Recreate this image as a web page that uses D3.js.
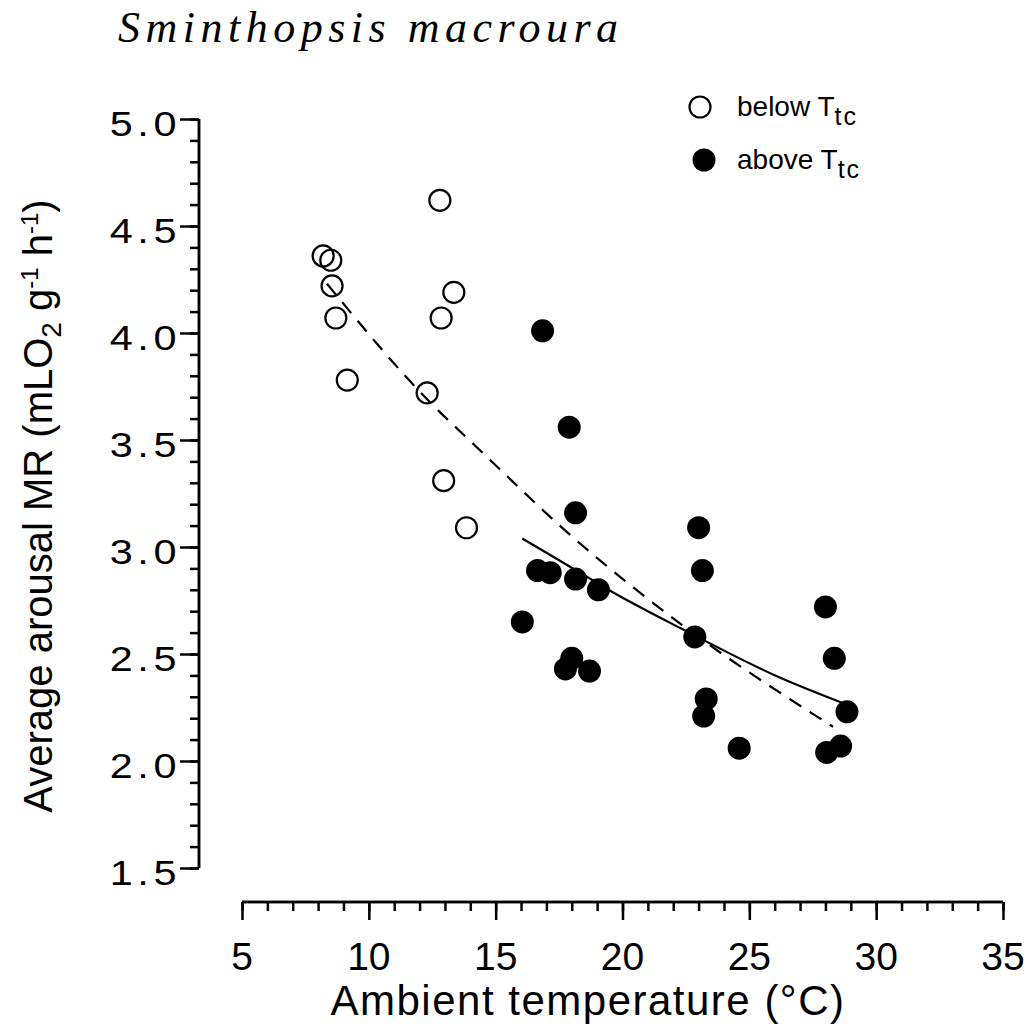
<!DOCTYPE html>
<html>
<head>
<meta charset="utf-8">
<script src="https://cdn.jsdelivr.net/npm/d3@7"></script>
<style>
  body { margin: 0; background: #fff; }
  text { font-family: "Liberation Sans", Arial, sans-serif; fill: #000; }
</style>
</head>
<body>
<div id="chart"></div>
<script>
// data
var belowTemp = [8.2, 8.5, 8.55, 8.7, 9.15, 12.8, 13.35, 12.85, 12.3, 12.95, 13.85];
var belowMR   = [4.36, 4.34, 4.22, 4.07, 3.78, 4.62, 4.19, 4.07, 3.72, 3.31, 3.09];

var aboveTemp = [16.85, 17.9, 18.15, 16.65, 17.15, 18.15, 19.05, 16.05, 18.0, 17.75, 18.7,
                 23.0, 23.15, 22.85, 23.3, 23.2, 24.6, 28.0, 28.35, 28.85, 28.6, 28.05];
var aboveMR   = [4.01, 3.56, 3.16, 2.89, 2.88, 2.85, 2.80, 2.65, 2.48, 2.43, 2.42,
                 3.09, 2.89, 2.58, 2.29, 2.21, 2.06, 2.72, 2.48, 2.23, 2.07, 2.04];

// fitted curves, points
var dashTemp = [8.35, 12.3, 14.4, 18.0, 22.3, 28.3];
var dashMR   = [4.23, 3.69, 3.45, 3.05, 2.64, 2.16];
var solidTemp = [16.05, 17.9, 19.6, 22.3, 26.2, 28.7];
var solidMR   = [3.04, 2.91, 2.79, 2.62, 2.39, 2.27];

var xTicks = [5, 10, 15, 20, 25, 30, 35];
var yTicks = [1.5, 2.0, 2.5, 3.0, 3.5, 4.0, 4.5, 5.0];

var W = 1028, H = 1026;

var svg = d3.select("#chart")
  .append("svg")
  .attr("width", W)
  .attr("height", H);

var x = d3.scaleLinear().domain([5, 35]).range([242, 1003]);
var y = d3.scaleLinear().domain([1.5, 5.0]).range([868, 119]);

// x axis: line on top, ticks pointing down
var xAxisY = 902;
var gx = svg.append("g").attr("transform", "translate(0," + xAxisY + ")");
gx.call(d3.axisBottom(x).tickValues(d3.range(5, 35.01, 1)).tickSize(9).tickSizeOuter(0).tickFormat(""));
gx.append("g").call(d3.axisBottom(x).tickValues(xTicks).tickSize(18).tickSizeOuter(0).tickFormat(""));
gx.selectAll("path, line").attr("stroke", "#000").attr("stroke-width", 2.5);
gx.selectAll(".domain").attr("d", "M" + x(5) + ",0H" + x(35));

svg.append("g").selectAll("text")
  .data(xTicks).enter().append("text")
  .attr("x", d => x(d))
  .attr("y", 970)
  .attr("text-anchor", "middle")
  .style("font-size", "39px")
  .text(d => d);

// y axis, ticks pointing left
var yAxisX = 199;
var gy = svg.append("g").attr("transform", "translate(" + yAxisX + ",0)");
gy.call(d3.axisLeft(y).tickValues(d3.range(1.5, 5.001, 0.1)).tickSize(9).tickSizeOuter(0).tickFormat(""));
gy.append("g").call(d3.axisLeft(y).tickValues(yTicks).tickSize(19).tickSizeOuter(0).tickFormat(""));
gy.selectAll("path, line").attr("stroke", "#000").attr("stroke-width", 2.5);
gy.selectAll(".domain").attr("d", "M0," + y(5) + "V" + y(1.5));

// tick labels in the original are wide, so stretch them a bit
svg.append("g").selectAll("text")
  .data(yTicks).enter().append("text")
  .attr("transform", d => "translate(181," + (y(d) + 17) + ") scale(1.15,1)")
  .attr("text-anchor", "end")
  .style("font-size", "36px")
  .style("letter-spacing", "4px")
  .text(d => d.toFixed(1));

// axis titles
svg.append("text")
  .attr("x", 588)
  .attr("y", 1015)
  .attr("text-anchor", "middle")
  .style("font-size", "42px")
  .style("letter-spacing", "1.5px")
  .text("Ambient temperature (°C)");

var yl = svg.append("text")
  .attr("transform", "translate(52,506) rotate(-90)")
  .attr("text-anchor", "middle")
  .style("font-size", "40px");
yl.append("tspan").text("Average arousal MR (mLO");
yl.append("tspan").attr("dy", 9).style("font-size", "28px").text("2");
yl.append("tspan").attr("dy", -9).text(" g");
yl.append("tspan").attr("dy", -14).style("font-size", "24px").text("-1");
yl.append("tspan").attr("dy", 14).text(" h");
yl.append("tspan").attr("dy", -14).style("font-size", "24px").text("-1");
yl.append("tspan").attr("dy", 14).text(")");

// title
svg.append("text")
  .attr("x", 118)
  .attr("y", 42)
  .style("font-family", "'Liberation Serif', serif")
  .style("font-style", "italic")
  .style("font-size", "44px")
  .style("letter-spacing", "5.5px")
  .text("Sminthopsis macroura");

// fitted lines
var line = d3.line().x(d => x(d[0])).y(d => y(d[1])).curve(d3.curveMonotoneX);

svg.append("path")
  .datum(d3.zip(dashTemp, dashMR))
  .attr("fill", "none")
  .attr("stroke", "#000")
  .attr("stroke-width", 2.2)
  .attr("stroke-dasharray", "14,10")
  .attr("d", line);

svg.append("path")
  .datum(d3.zip(solidTemp, solidMR))
  .attr("fill", "none")
  .attr("stroke", "#000")
  .attr("stroke-width", 2.2)
  .attr("d", line);

// points
svg.selectAll(".below")
  .data(d3.zip(belowTemp, belowMR))
  .enter().append("circle")
  .attr("class", "below")
  .attr("cx", d => x(d[0]))
  .attr("cy", d => y(d[1]))
  .attr("r", 10.5)
  .attr("fill", "none")
  .attr("stroke", "#000")
  .attr("stroke-width", 2.2);

svg.selectAll(".above")
  .data(d3.zip(aboveTemp, aboveMR))
  .enter().append("circle")
  .attr("class", "above")
  .attr("cx", d => x(d[0]))
  .attr("cy", d => y(d[1]))
  .attr("r", 11.5)
  .attr("fill", "#000");

// legend
var legend = svg.append("g");
legend.append("circle").attr("cx", 700).attr("cy", 107).attr("r", 10.5)
  .attr("fill", "none").attr("stroke", "#000").attr("stroke-width", 2.2);
legend.append("circle").attr("cx", 704).attr("cy", 160).attr("r", 11.5).attr("fill", "#000");

var l1 = legend.append("text").attr("x", 737).attr("y", 116).style("font-size", "28px");
l1.append("tspan").text("below T");
l1.append("tspan").attr("dy", 9).style("font-size", "25px").style("letter-spacing", "2px").text("tc");
var l2 = legend.append("text").attr("x", 737).attr("y", 169).style("font-size", "28px");
l2.append("tspan").text("above T");
l2.append("tspan").attr("dy", 9).style("font-size", "25px").style("letter-spacing", "2px").text("tc");
</script>
</body>
</html>
